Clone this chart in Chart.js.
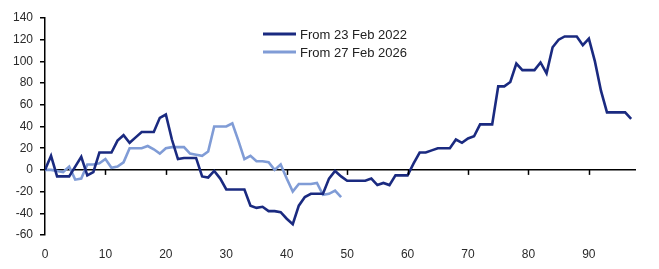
<!DOCTYPE html>
<html>
<head>
<meta charset="utf-8">
<script src="https://cdn.jsdelivr.net/npm/chart.js@4"></script>
<style>
  html, body { margin: 0; padding: 0; background: #fff; }
  #wrap { width: 659px; height: 269px; }
</style>
</head>
<body>
<div id="wrap"><canvas id="chart" width="659" height="269"></canvas></div>
<script>
// Series values (index 0 = start date)
const from2022 = [0, 13, -6, -6, -6, 3, 12, -5, -2, 16,
  16, 16, 27, 32, 25, 30, 35, 35, 35, 48,
  51, 28, 10, 11, 11, 11, -6, -7, -1, -8,
  -18, -18, -18, -18, -33, -35, -34, -38, -38, -39,
  -45, -50, -33, -25, -22, -22, -22, -8, -1, -6,
  -10, -10, -10, -10, -8, -14, -12, -14, -5, -5,
  -5, 6, 16, 16, 18, 20, 20, 20, 28, 25,
  29, 31, 42, 42, 42, 77, 77, 81, 98, 92,
  92, 92, 99, 89, 113, 120, 123, 123, 123, 115,
  121, 100, 73, 53, 53, 53, 53, 47];
const from2026 = [0, 0, -1, -2, 3, -9, -8, 5, 5, 6,
  10, 2, 3, 7, 20, 20, 20, 22, 19, 15,
  20, 21, 21, 21, 15, 14, 13, 17, 40, 40,
  40, 43, 27, 10, 13, 8, 8, 7, 0, 5,
  -8, -20, -13, -13, -13, -12, -23, -22, -19, -25];
const seriesNames = ['From 23 Feb 2022', 'From 27 Feb 2026'];
const yTicks = [-60, -40, -20, 0, 20, 40, 60, 80, 100, 120, 140];
const xTicks = [0, 10, 20, 30, 40, 50, 60, 70, 80, 90];

const DARK = '#1a2a80';
const LIGHT = '#809cd6';
const FONT = '"Liberation Sans", Arial, sans-serif';

const toPoints = arr => arr.map((v, i) => ({ x: i, y: v }));

// tick marks on the zero line + two-row legend
const extras = {
  id: 'extras',
  afterDraw(chart) {
    const { ctx, chartArea, scales } = chart;
    const y0 = scales.y.getPixelForValue(0);
    ctx.save();
    ctx.strokeStyle = '#000';
    ctx.lineWidth = 1.5;
    xTicks.forEach(v => {
      if (v === 0) return;
      const px = Math.round(scales.x.getPixelForValue(v)) + 0.5;
      ctx.beginPath();
      ctx.moveTo(px, y0);
      ctx.lineTo(px, y0 + 5);
      ctx.stroke();
    });

    // legend
    const lx = chartArea.left + 218;
    let ly = chartArea.top + 16;
    ctx.font = '13px ' + FONT;
    ctx.textBaseline = 'middle';
    ctx.fillStyle = '#222';
    chart.data.datasets.forEach(ds => {
      ctx.strokeStyle = ds.borderColor;
      ctx.lineWidth = 3;
      ctx.beginPath();
      ctx.moveTo(lx, ly);
      ctx.lineTo(lx + 33, ly);
      ctx.stroke();
      ctx.fillText(ds.label, lx + 37, ly + 1);
      ly += 18;
    });
    ctx.restore();
  }
};

new Chart(document.getElementById('chart'), {
  type: 'line',
  data: {
    datasets: [
      { label: seriesNames[0], data: toPoints(from2022), borderColor: DARK, borderWidth: 2.6 },
      { label: seriesNames[1], data: toPoints(from2026), borderColor: LIGHT, borderWidth: 2.6 }
    ]
  },
  options: {
    responsive: false,
    animation: false,
    events: [],
    elements: { point: { radius: 0 }, line: { tension: 0, borderCapStyle: 'butt', borderJoinStyle: 'miter' } },
    layout: { padding: { top: 18, right: 23, left: 0, bottom: 0 } },
    plugins: { legend: { display: false }, tooltip: { enabled: false } },
    scales: {
      x: {
        type: 'linear',
        min: 0,
        max: 97.8,
        afterBuildTicks: s => { s.ticks = xTicks.map(v => ({ value: v })); },
        afterFit: s => { s.height = 34; },
        grid: { display: false },
        border: { display: false },
        ticks: { color: '#2a2a2a', font: { family: FONT, size: 12 }, padding: 4 }
      },
      y: {
        min: -60,
        max: 140,
        afterBuildTicks: s => { s.ticks = yTicks.map(v => ({ value: v })); },
        afterFit: s => { s.width = 45; },
        border: { display: true, color: '#000', width: 1.5 },
        grid: {
          color: c => (c.tick && c.tick.value === 0 ? '#000' : 'rgba(0,0,0,0)'),
          lineWidth: 1.5,
          tickColor: '#000',
          tickLength: 5,
          tickWidth: 1.5
        },
        ticks: { color: '#2a2a2a', font: { family: FONT, size: 12 }, padding: 7 }
      }
    }
  },
  plugins: [extras]
});
</script>
</body>
</html>
